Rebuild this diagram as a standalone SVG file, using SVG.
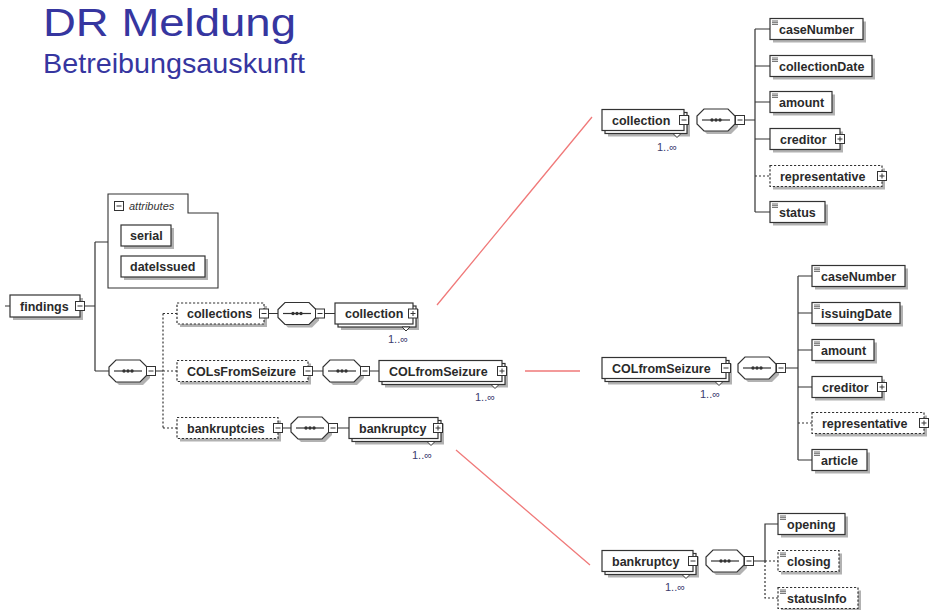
<svg xmlns="http://www.w3.org/2000/svg" width="929" height="610" viewBox="0 0 929 610">
  <style>
    .title { font-family: "Liberation Sans", Arial, sans-serif; fill: #3636a0; }
    .box { fill: #fff; stroke: #333; stroke-width: 1.2; }
    .opt { stroke-dasharray: 2.2 1.8; }
    .sh { fill: #b2b2b2; }
    .lbl { font-family: "Liberation Sans", Arial, sans-serif; font-weight: bold; font-size: 12.5px; fill: #2a2a2a; }
    .it { font-family: "Liberation Sans", Arial, sans-serif; font-style: italic; font-size: 11px; fill: #333; }
    .mult { font-family: "Liberation Sans", Arial, sans-serif; font-size: 11px; fill: #3b3b6e; }
    .ln { stroke: #333; stroke-width: 1.2; fill: none; }
    .dl { stroke-dasharray: 2 2; }
    .red { stroke: #f07a7a; stroke-width: 1.3; fill: none; }
  </style>
  <defs>
    <!-- collapse / expand toggles -->
    <g id="mi">
      <rect x="0.5" y="0.5" width="9" height="9" fill="#fff" stroke="#333" stroke-width="1"/>
      <path d="M2.5 5H7.5" stroke="#333" stroke-width="1"/>
    </g>
    <g id="pl">
      <rect x="0.5" y="0.5" width="9" height="9" fill="#fff" stroke="#333" stroke-width="1"/>
      <path d="M2.5 5H7.5M5 2.5V7.5" stroke="#333" stroke-width="1"/>
    </g>
    <!-- sequence compositor, origin at left edge / vertical centre -->
    <g id="seq">
      <path class="sh" d="M10 -8H34L41 -1V7L34 14H10L3 7V-1Z"/>
      <path class="box" d="M7 -11H31L38 -4V4L31 11H7L0 4V-4Z"/>
      <path d="M5 0H33" stroke="#333" stroke-width="1.2"/>
      <circle cx="15" cy="0" r="1.7" fill="#333"/>
      <circle cx="19" cy="0" r="1.7" fill="#333"/>
      <circle cx="23" cy="0" r="1.7" fill="#333"/>
    </g>
    <!-- simple-type marker -->
    <g id="st">
      <path d="M0 0.5H6M0 2.2H6M0 3.9H6" stroke="#444" stroke-width="0.8"/>
    </g>
    <!-- repetition notch -->
    <path id="notch" d="M-4 0L0 4L4 0Z" fill="#fff" stroke="#333" stroke-width="1"/>
  </defs>

  <!-- heading -->
  <text class="title" x="43" y="36" font-size="39" textLength="253" lengthAdjust="spacingAndGlyphs">DR Meldung</text>
  <text class="title" x="43" y="73" font-size="28" textLength="262" lengthAdjust="spacingAndGlyphs">Betreibungsauskunft</text>

  <!-- connectors -->
  <g id="connectors">
    <path class="ln" d="M5 306H10M85 306H95M95 242V371M95 242H108M95 371H109M156 371H163"/>
    <path class="ln dl" d="M163 313.5V428M163 313.5H177M163 371H177M163 428H177"/>
    <path class="ln" d="M268.5 313.5H278M325 313.5H335"/>
    <path class="ln" d="M313 371H323M370 371H379"/>
    <path class="ln" d="M282.5 428H291M338 428H349"/>
    <!-- collection content -->
    <path class="ln" d="M745 120H755M755 29V212M755 29H770M755 66H770M755 102H770M755 139H770M755 212H770"/>
    <path class="ln dl" d="M755 176H770"/>
    <!-- COLfromSeizure content -->
    <path class="ln" d="M786 368H798M798 276V460M798 276H812M798 313H812M798 350H812M798 387H812M798 460H812"/>
    <path class="ln dl" d="M798 423H812"/>
    <!-- bankruptcy content -->
    <path class="ln" d="M754 561H765V524H778"/>
    <path class="ln dl" d="M765 561H778M765 561V598H778"/>
    <!-- detail links -->
    <path class="red" d="M437 305L592 117M525 371H580M456 450L590 565"/>
  </g>

  <g id="findings">
    <rect class="sh" x="13" y="298" width="70" height="22"/>
    <rect class="box" x="10" y="295" width="70" height="22"/>
    <text class="lbl" x="20" y="310.5">findings</text>
    <use href="#mi" x="75" y="301"/>
  </g>

  <g id="attributes">
    <polygon points="108,194 188,194 188,213 218,213 218,288 108,288" fill="#fff" stroke="#333" stroke-width="1.1"/>
    <use href="#mi" x="114" y="201"/>
    <text class="it" x="129" y="209.5">attributes</text>
  </g>
  <g id="serial">
    <rect class="sh" x="124" y="228" width="50" height="21"/>
    <rect class="box" x="121" y="225" width="50" height="21"/>
    <text class="lbl" x="130" y="240">serial</text>
  </g>
  <g id="dateIssued">
    <rect class="sh" x="124" y="259" width="84" height="21"/>
    <rect class="box" x="121" y="256" width="84" height="21"/>
    <text class="lbl" x="130" y="271">dateIssued</text>
  </g>

  <g id="findings-seq">
    <use href="#seq" x="109" y="371"/>
    <use href="#mi" x="146" y="366"/>
  </g>

  <!-- collections row -->
  <g id="collections">
    <rect class="sh" x="180" y="306" width="87" height="21"/>
    <rect class="box opt" x="177" y="303" width="87" height="21"/>
    <text class="lbl" x="187" y="318">collections</text>
    <use href="#mi" x="259" y="308.5"/>
  </g>
  <g id="collections-seq">
    <use href="#seq" x="278" y="313.5"/>
    <use href="#mi" x="315" y="308.5"/>
  </g>
  <g id="collection-ref">
    <rect class="sh" x="341" y="309" width="78" height="21"/>
    <rect class="box" x="338" y="306" width="78" height="21"/>
    <use href="#notch" x="406" y="327"/>
    <rect class="box" x="335" y="303" width="78" height="21"/>
    <text class="lbl" x="345" y="318">collection</text>
    <use href="#pl" x="408" y="308.5"/>
    <text class="mult" x="388" y="343">1..∞</text>
  </g>

  <!-- COLsFromSeizure row -->
  <g id="COLsFromSeizure">
    <rect class="sh" x="180" y="363.5" width="131" height="21"/>
    <rect class="box opt" x="177" y="360.5" width="131" height="21"/>
    <text class="lbl" x="187" y="375.5">COLsFromSeizure</text>
    <use href="#mi" x="303" y="366"/>
  </g>
  <g id="COLsFromSeizure-seq">
    <use href="#seq" x="323" y="371"/>
    <use href="#mi" x="360" y="366"/>
  </g>
  <g id="COLfromSeizure-ref">
    <rect class="sh" x="385" y="366.5" width="123" height="21"/>
    <rect class="box" x="382" y="363.5" width="123" height="21"/>
    <use href="#notch" x="495" y="384.5"/>
    <rect class="box" x="379" y="360.5" width="123" height="21"/>
    <text class="lbl" x="389" y="375.5">COLfromSeizure</text>
    <use href="#pl" x="497" y="366"/>
    <text class="mult" x="475" y="401">1..∞</text>
  </g>

  <!-- bankruptcies row -->
  <g id="bankruptcies">
    <rect class="sh" x="180" y="420.5" width="101" height="21"/>
    <rect class="box opt" x="177" y="417.5" width="101" height="21"/>
    <text class="lbl" x="187" y="432.5">bankruptcies</text>
    <use href="#mi" x="273" y="423"/>
  </g>
  <g id="bankruptcies-seq">
    <use href="#seq" x="291" y="428"/>
    <use href="#mi" x="328" y="423"/>
  </g>
  <g id="bankruptcy-ref">
    <rect class="sh" x="355" y="423.5" width="89" height="21"/>
    <rect class="box" x="352" y="420.5" width="89" height="21"/>
    <use href="#notch" x="431" y="441.5"/>
    <rect class="box" x="349" y="417.5" width="89" height="21"/>
    <text class="lbl" x="359" y="432.5">bankruptcy</text>
    <use href="#pl" x="433" y="423"/>
    <text class="mult" x="412" y="459">1..∞</text>
  </g>

  <!-- collection detail -->
  <g id="collection">
    <rect class="sh" x="608" y="115.5" width="82" height="21"/>
    <rect class="box" x="605" y="112.5" width="82" height="21"/>
    <use href="#notch" x="677" y="133.5"/>
    <rect class="box" x="602" y="109.5" width="82" height="21"/>
    <text class="lbl" x="612" y="124.5">collection</text>
    <use href="#mi" x="679" y="115"/>
    <text class="mult" x="657" y="151">1..∞</text>
  </g>
  <g id="collection-seq">
    <use href="#seq" x="697" y="120"/>
    <use href="#mi" x="735" y="115"/>
  </g>
  <g id="c-caseNumber">
    <rect class="sh" x="773" y="21.5" width="93" height="21"/>
    <rect class="box" x="770" y="18.5" width="93" height="21"/>
    <use href="#st" x="772" y="20.5"/>
    <text class="lbl" x="779" y="33.5">caseNumber</text>
  </g>
  <g id="c-collectionDate">
    <rect class="sh" x="773" y="58.5" width="102" height="21"/>
    <rect class="box" x="770" y="55.5" width="102" height="21"/>
    <use href="#st" x="772" y="57.5"/>
    <text class="lbl" x="779" y="70.5">collectionDate</text>
  </g>
  <g id="c-amount">
    <rect class="sh" x="773" y="94.5" width="62" height="21"/>
    <rect class="box" x="770" y="91.5" width="62" height="21"/>
    <use href="#st" x="772" y="93.5"/>
    <text class="lbl" x="779" y="106.5">amount</text>
  </g>
  <g id="c-creditor">
    <rect class="sh" x="773" y="131.5" width="70" height="21"/>
    <rect class="box" x="770" y="128.5" width="70" height="21"/>
    <text class="lbl" x="780" y="143.5">creditor</text>
    <use href="#pl" x="835" y="134"/>
  </g>
  <g id="c-representative">
    <rect class="sh" x="773" y="168.5" width="112" height="21"/>
    <rect class="box opt" x="770" y="165.5" width="112" height="21"/>
    <text class="lbl" x="780" y="180.5">representative</text>
    <use href="#pl" x="877" y="171"/>
  </g>
  <g id="c-status">
    <rect class="sh" x="773" y="204.5" width="55" height="21"/>
    <rect class="box" x="770" y="201.5" width="55" height="21"/>
    <use href="#st" x="772" y="203.5"/>
    <text class="lbl" x="779" y="216.5">status</text>
  </g>

  <!-- COLfromSeizure detail -->
  <g id="COLfromSeizure">
    <rect class="sh" x="608" y="363.5" width="124" height="21"/>
    <rect class="box" x="605" y="360.5" width="124" height="21"/>
    <use href="#notch" x="719" y="381.5"/>
    <rect class="box" x="602" y="357.5" width="124" height="21"/>
    <text class="lbl" x="612" y="372.5">COLfromSeizure</text>
    <use href="#mi" x="721" y="363"/>
    <text class="mult" x="700" y="398">1..∞</text>
  </g>
  <g id="COLfromSeizure-seq">
    <use href="#seq" x="738" y="368"/>
    <use href="#mi" x="776" y="363"/>
  </g>
  <g id="s-caseNumber">
    <rect class="sh" x="815" y="268.5" width="93" height="21"/>
    <rect class="box" x="812" y="265.5" width="93" height="21"/>
    <use href="#st" x="814" y="267.5"/>
    <text class="lbl" x="821" y="280.5">caseNumber</text>
  </g>
  <g id="s-issuingDate">
    <rect class="sh" x="815" y="305.5" width="88" height="21"/>
    <rect class="box" x="812" y="302.5" width="88" height="21"/>
    <use href="#st" x="814" y="304.5"/>
    <text class="lbl" x="821" y="317.5">issuingDate</text>
  </g>
  <g id="s-amount">
    <rect class="sh" x="815" y="342.5" width="62" height="21"/>
    <rect class="box" x="812" y="339.5" width="62" height="21"/>
    <use href="#st" x="814" y="341.5"/>
    <text class="lbl" x="821" y="354.5">amount</text>
  </g>
  <g id="s-creditor">
    <rect class="sh" x="815" y="379.5" width="70" height="21"/>
    <rect class="box" x="812" y="376.5" width="70" height="21"/>
    <text class="lbl" x="822" y="391.5">creditor</text>
    <use href="#pl" x="877" y="382"/>
  </g>
  <g id="s-representative">
    <rect class="sh" x="815" y="415.5" width="112" height="21"/>
    <rect class="box opt" x="812" y="412.5" width="112" height="21"/>
    <text class="lbl" x="822" y="427.5">representative</text>
    <use href="#pl" x="919" y="418"/>
  </g>
  <g id="s-article">
    <rect class="sh" x="815" y="452.5" width="55" height="21"/>
    <rect class="box" x="812" y="449.5" width="55" height="21"/>
    <use href="#st" x="814" y="451.5"/>
    <text class="lbl" x="821" y="464.5">article</text>
  </g>

  <!-- bankruptcy detail -->
  <g id="bankruptcy">
    <rect class="sh" x="608" y="556.5" width="91" height="21"/>
    <rect class="box" x="605" y="553.5" width="91" height="21"/>
    <use href="#notch" x="686" y="574.5"/>
    <rect class="box" x="602" y="550.5" width="91" height="21"/>
    <text class="lbl" x="612" y="565.5">bankruptcy</text>
    <use href="#mi" x="688" y="556"/>
    <text class="mult" x="665" y="591">1..∞</text>
  </g>
  <g id="bankruptcy-seq">
    <use href="#seq" x="706" y="561"/>
    <use href="#mi" x="744" y="556"/>
  </g>
  <g id="b-opening">
    <rect class="sh" x="781" y="516.5" width="67" height="21"/>
    <rect class="box" x="778" y="513.5" width="67" height="21"/>
    <use href="#st" x="780" y="515.5"/>
    <text class="lbl" x="787" y="528.5">opening</text>
  </g>
  <g id="b-closing">
    <rect class="sh" x="781" y="553.5" width="61" height="21"/>
    <rect class="box opt" x="778" y="550.5" width="61" height="21"/>
    <use href="#st" x="780" y="552.5"/>
    <text class="lbl" x="787" y="565.5">closing</text>
  </g>
  <g id="b-statusInfo">
    <rect class="sh" x="781" y="590.5" width="80" height="21"/>
    <rect class="box opt" x="778" y="587.5" width="80" height="21"/>
    <use href="#st" x="780" y="589.5"/>
    <text class="lbl" x="787" y="602.5">statusInfo</text>
  </g>
</svg>
